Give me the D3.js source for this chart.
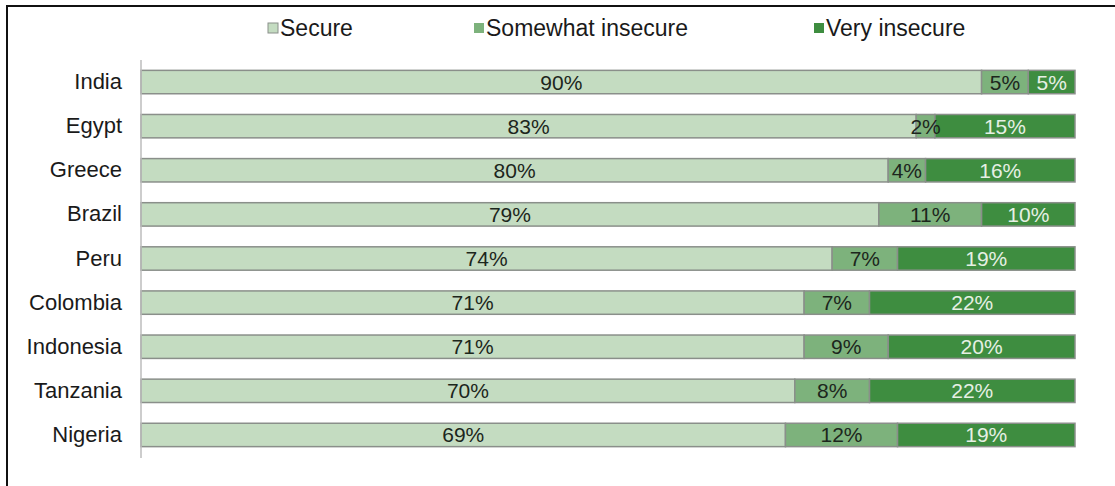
<!DOCTYPE html>
<html><head><meta charset="utf-8">
<script src="https://cdn.jsdelivr.net/npm/d3@7/dist/d3.min.js"></script>
<style>body{margin:0;background:#fff;}svg{display:block;font-family:"Liberation Sans",Arial,sans-serif;}</style>
</head><body>
<svg id="c" width="1115" height="486"></svg>
<script>
const countries = ["India","Egypt","Greece","Brazil","Peru","Colombia","Indonesia","Tanzania","Nigeria"];
const secure = [90,83,80,79,74,71,71,70,69];
const somewhat = [5,2,4,11,7,7,9,8,12];
const very = [5,15,16,10,19,22,20,22,19];
const seriesNames = ["Secure","Somewhat insecure","Very insecure"];
const seriesColors = ["#c4dcc1","#7db27c","#3e8d40"];
const labelColors = ["#1c261c","#1c261c","#e6f0e4"];

const svg = d3.select("#c");
// frame
svg.append("line").attr("x1",7).attr("x2",1115).attr("y1",6).attr("y2",6).attr("stroke","#111").attr("stroke-width",2);
svg.append("line").attr("x1",7).attr("x2",7).attr("y1",5).attr("y2",486).attr("stroke","#111").attr("stroke-width",2);

const x = d3.scaleLinear().domain([0,100]).range([141,1075]);
const y = d3.scaleBand().domain(countries).range([60,457]).paddingInner(0.47).paddingOuter(0.235);

const rows = countries.map((c,i)=>({c, vals:[secure[i],somewhat[i],very[i]]}));
const segs = [];
rows.forEach(r=>{let acc=0; r.vals.forEach((v,k)=>{segs.push({c:r.c,k,v,x0:acc,x1:acc+v}); acc+=v;});});

svg.selectAll("rect.seg").data(segs).join("rect").attr("class","seg")
  .attr("x",d=>x(d.x0)).attr("width",d=>x(d.x1)-x(d.x0))
  .attr("y",d=>y(d.c)).attr("height",y.bandwidth())
  .attr("fill",d=>seriesColors[d.k]).attr("stroke","#8a8f8a").attr("stroke-width",1.5);

svg.selectAll("text.val").data(segs).join("text").attr("class","val")
  .attr("x",d=>(x(d.x0)+x(d.x1))/2).attr("y",d=>y(d.c)+y.bandwidth()/2+7.5)
  .attr("text-anchor","middle").attr("font-size",21).attr("fill",d=>labelColors[d.k])
  .text(d=>d.v+"%");

// axis
const axis = svg.append("g").attr("transform","translate(141,0)")
  .call(d3.axisLeft(y).tickSize(0).tickPadding(19));
axis.select(".domain").attr("stroke","#bdbdbd").attr("stroke-width",1.5).attr("d","M0,60V458");
axis.selectAll("text").attr("font-size",22).attr("fill","#1a1a1a").attr("font-family","Liberation Sans, Arial, sans-serif");

// legend
const legX = [268,474,814];
const leg = svg.selectAll("g.leg").data(seriesNames).join("g").attr("class","leg")
  .attr("transform",(d,i)=>`translate(${legX[i]},28)`);
leg.append("rect").attr("x",0).attr("y",-5).attr("width",10).attr("height",10)
  .attr("fill",(d,i)=>seriesColors[i]).attr("stroke",(d,i)=>i===0?"#8a8f8a":"none");
leg.append("text").attr("x",12).attr("y",8).attr("font-size",23).attr("fill","#1a1a1a").text(d=>d);
</script>
</body></html>
